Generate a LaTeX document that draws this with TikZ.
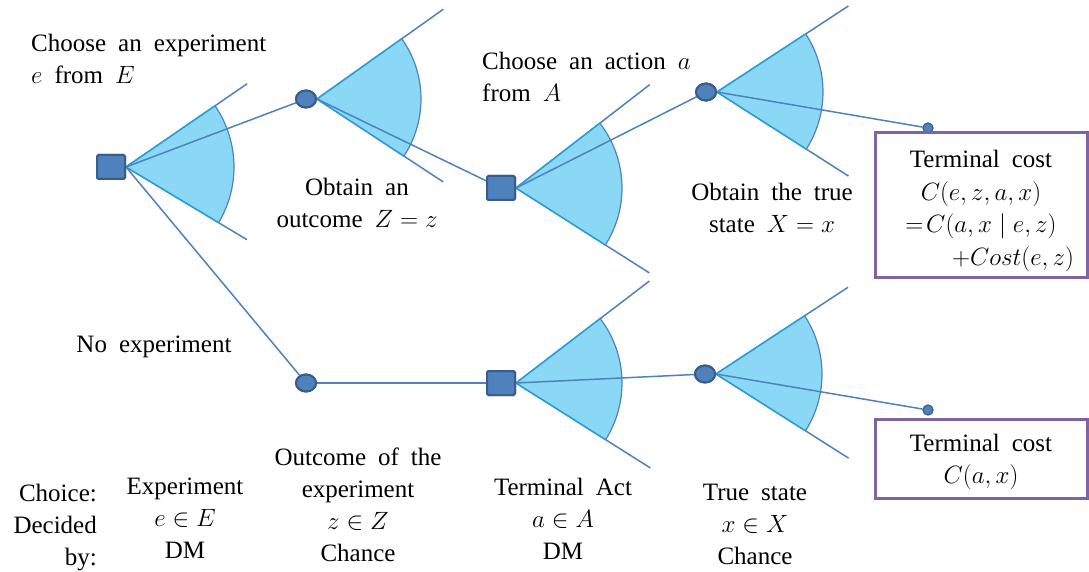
\RequirePackage{fix-cm}
\documentclass[tikz,border=0pt]{standalone}
\usepackage{fontspec}
\setmainfont{Liberation Serif}
\usetikzlibrary{shapes.geometric,calc}
\definecolor{wfill}{RGB}{138,216,246}
\definecolor{wedgecol}{RGB}{40,158,216}
\definecolor{lcol}{RGB}{79,129,189}
\definecolor{nfill}{RGB}{79,129,189}
\definecolor{nbord}{RGB}{56,93,138}
\definecolor{boxcol}{RGB}{128,100,162}
\newcommand\lblfont{\fontsize{25}{32}\selectfont\spaceskip=0.48em plus 0.1em minus 0.05em\relax}
\tikzset{
  dm/.style={draw=nbord, fill=nfill, line width=2pt, rounded corners=1.5pt, minimum width=28pt, minimum height=24pt, inner sep=0pt},
  chance/.style={ellipse, draw=nbord, fill=nfill, line width=2pt, minimum width=20pt, minimum height=17pt, inner sep=0pt},
  tdot/.style={circle, draw=nbord, fill=nfill, line width=1pt, minimum size=10pt, inner sep=0pt},
  branch/.style={draw=lcol, line width=1.5pt},
  wedgeedge/.style={draw=wedgecol, line width=1.5pt},
  arcline/.style={draw=lcol, line width=1.2pt},
  lbl/.style={font=\lblfont, align=center, inner sep=0pt},
  costbox/.style={draw=boxcol, line width=3pt, inner sep=0pt},
}
\newcommand\drawfan[6]{%
  \coordinate (#1u) at ($(#1.east)+(-#2:#3)$);
  \coordinate (#1l) at ($(#1.east)+(#4:#5)$);
  \draw[branch] (#1.east) -- (#1u);
  \draw[branch] (#1.east) -- (#1l);
  \fill[wfill] (#1.east) -- ++(-#2:#6) arc[start angle=-#2, end angle=#4, radius=#6] -- cycle;
  \draw[wedgeedge] (#1.east) -- ++(-#2:#6);
  \draw[wedgeedge] (#1.east) -- ++(#4:#6);
  \draw[arcline] ($(#1.east)+(-#2:#6)$) arc[start angle=-#2, end angle=#4, radius=#6];
}
\begin{document}
\begin{tikzpicture}[x=1pt,y=-1pt]
\useasboundingbox (0,0) rectangle (1089,572);
% decision and chance nodes
\node[dm] (d1) at (111,167) {};
\node[chance] (c1) at (306,99) {};
\node[chance] (c2) at (306,383) {};
\node[dm] (d2) at (501,188) {};
\node[dm] (d3) at (501,383) {};
\node[chance] (c3) at (706,92) {};
\node[chance] (c4) at (705,374) {};
\node[tdot] (t1) at (928,128) {};
\node[tdot] (t2) at (928,410) {};
% fans
\drawfan{d1}{34.5}{147}{31}{141}{108}
\drawfan{c1}{35.4}{155}{33.3}{151}{104}
\drawfan{d2}{37.7}{169}{32.5}{158}{106}
\drawfan{c3}{33.2}{157}{32.6}{156}{106}
\drawfan{d3}{37.4}{168}{32.3}{159}{106}
\drawfan{c4}{33.3}{158}{32.4}{157}{106}
% connectors
\draw[branch] (d1.east) -- (c1);
\draw[branch] (d1.east) -- (c2);
\draw[branch] (c1.east) -- (d2);
\draw[branch] (d2.east) -- (c3);
\draw[branch] (c2) -- (d3);
\draw[branch] (d3.east) -- (c4);
\draw[branch] (c3.east) -- (t1);
\draw[branch] (c4.east) -- (t2);
% redraw nodes on top
\node[dm] at (d1) {};
\node[chance] at (c1) {};
\node[chance] at (c2) {};
\node[dm] at (d2) {};
\node[dm] at (d3) {};
\node[chance] at (c3) {};
\node[chance] at (c4) {};
\node[tdot] at (t1) {};
\node[tdot] at (t2) {};
% terminal boxes
\node[costbox, minimum width=212pt, minimum height=144pt] (b1) at (981,205) {};
\node[lbl, anchor=north] (b1t) at (981,150)
  {Terminal cost\\[0.6pt]$C(e,z,a,x)$\\[0.6pt]$=\!C(a,x\mid e,z)$\\[0.6pt]\hspace*{64pt}$+Cost(e,z)$};
\node[costbox, minimum width=212pt, minimum height=79pt] (b2) at (981,458.5) {};
\node[lbl, anchor=north] (b2t) at (981,434) {Terminal cost\\$C(a,x)$};
% labels
\node[lbl, anchor=north west, align=left] (lexp) at (31,34) {Choose an experiment\\$e$ from $E$};
\node[lbl, anchor=north] (lobt) at (357,178) {Obtain an\\outcome $Z=z$};
\node[lbl, anchor=north west, align=left] (lact) at (482,52) {Choose an action $a$\\from $A$};
\node[lbl, anchor=north] (ltrue) at (772,183) {Obtain the true\\state $X=x$};
\node[lbl, anchor=north] (lnoexp) at (154,336) {No experiment};
\node[lbl, anchor=north east, align=right] (lchoice) at (97,484) {Choice:\\Decided\\by:};
\node[lbl, anchor=north] (lexpc) at (185,478) {Experiment\\$e\in E$\\DM};
\node[lbl, anchor=north] (loutc) at (358,448) {Outcome of the\\experiment\\$z\in Z$\\Chance};
\node[lbl, anchor=north] (lact2) at (563,478) {Terminal Act\\$a\in A$\\DM};
\node[lbl, anchor=north] (ltrue2) at (755,484) {True state\\$x\in X$\\Chance};
\end{tikzpicture}
\end{document}
